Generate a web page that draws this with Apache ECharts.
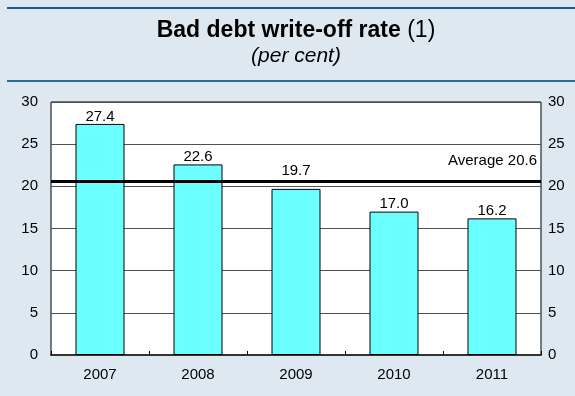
<!DOCTYPE html>
<html>
<head>
<meta charset="utf-8">
<script src="https://cdn.jsdelivr.net/npm/echarts@6/dist/echarts.min.js"></script>
<style>
  html, body { margin: 0; padding: 0; background: #dde8f1; }
  #chart { width: 575px; height: 396px; }
</style>
</head>
<body>
<div id="chart"></div>
<script>
// Bad debt write-off rate by year (per cent)
const years = ['2007', '2008', '2009', '2010', '2011'];
const writeOffRate = [27.4, 22.6, 19.7, 17.0, 16.2];
const averageRate = 20.6;
const yTicks = [0, 5, 10, 15, 20, 25, 30];

const FONT = 'Liberation Sans, Arial, sans-serif';
const GRID = { left: 51, right: 34, top: 102, bottom: 41 };
const WIDTH = 575;
// headings are centred over the plotting area
const headX = GRID.left + (WIDTH - GRID.left - GRID.right) / 2;

const chart = echarts.init(document.getElementById('chart'), null, { renderer: 'canvas' });

const yAxisBase = {
  type: 'value',
  min: yTicks[0],
  max: yTicks[yTicks.length - 1],
  interval: yTicks[1] - yTicks[0],
  axisLine: { show: false },
  axisTick: { show: false },
  axisLabel: { color: '#000', fontSize: 15, fontFamily: FONT }
};

// the 2009 label is lifted clear of the average line
const barData = writeOffRate.map((v, i) => (
  years[i] === '2009' ? { value: v, label: { distance: 11 } } : v
));

chart.setOption({
  backgroundColor: '#dde8f1',
  animation: false,
  graphic: [
    { type: 'rect', shape: { x: 7, y: 7, width: 568, height: 2 }, style: { fill: '#1e5a86' } },
    { type: 'rect', shape: { x: 7, y: 80, width: 568, height: 2 }, style: { fill: '#2b6a96' } },
    {
      type: 'text',
      x: headX,
      y: 31,
      style: {
        text: '{b|Bad debt write-off rate} {n|(1)}',
        align: 'center',
        verticalAlign: 'middle',
        font: '23px ' + FONT,
        fill: '#000',
        rich: {
          b: { fontSize: 23, fontWeight: 'bold', fill: '#000', fontFamily: FONT },
          n: { fontSize: 23, fontWeight: 'normal', fill: '#000', fontFamily: FONT }
        }
      }
    },
    {
      type: 'text',
      x: headX,
      y: 56,
      style: {
        text: '(per cent)',
        align: 'center',
        verticalAlign: 'middle',
        font: 'italic 21px ' + FONT,
        fill: '#000'
      }
    }
  ],
  grid: Object.assign({ show: true, backgroundColor: '#fff', borderColor: '#000', borderWidth: 1 }, GRID),
  xAxis: {
    type: 'category',
    data: years,
    axisLine: { show: true, lineStyle: { color: '#333', width: 2 } },
    axisTick: { show: true, inside: true, length: 4, lineStyle: { color: '#000' } },
    axisLabel: { color: '#000', fontSize: 15, fontFamily: FONT, margin: 12 }
  },
  yAxis: [
    Object.assign({}, yAxisBase, {
      position: 'left',
      axisLabel: Object.assign({}, yAxisBase.axisLabel, { margin: 13 }),
      splitLine: { show: true, lineStyle: { color: '#505050', width: 1 } }
    }),
    Object.assign({}, yAxisBase, {
      position: 'right',
      axisLabel: Object.assign({}, yAxisBase.axisLabel, { margin: 7 }),
      splitLine: { show: false }
    })
  ],
  series: [
    {
      type: 'bar',
      data: barData,
      barWidth: '50%',
      itemStyle: { color: '#6cffff', borderColor: '#000', borderWidth: 1 },
      label: {
        show: true,
        position: 'top',
        distance: 0,
        color: '#000',
        fontSize: 15,
        fontFamily: FONT,
        formatter: p => p.value.toFixed(1)
      },
      markLine: {
        symbol: 'none',
        silent: true,
        lineStyle: { color: '#000', width: 3, type: 'solid' },
        label: {
          show: true,
          position: 'insideEndTop',
          distance: [4, 13],
          color: '#000',
          fontSize: 15,
          fontFamily: FONT,
          formatter: 'Average ' + averageRate.toFixed(1)
        },
        data: [{ yAxis: averageRate }]
      },
      z: 3
    }
  ]
});
</script>
</body>
</html>
